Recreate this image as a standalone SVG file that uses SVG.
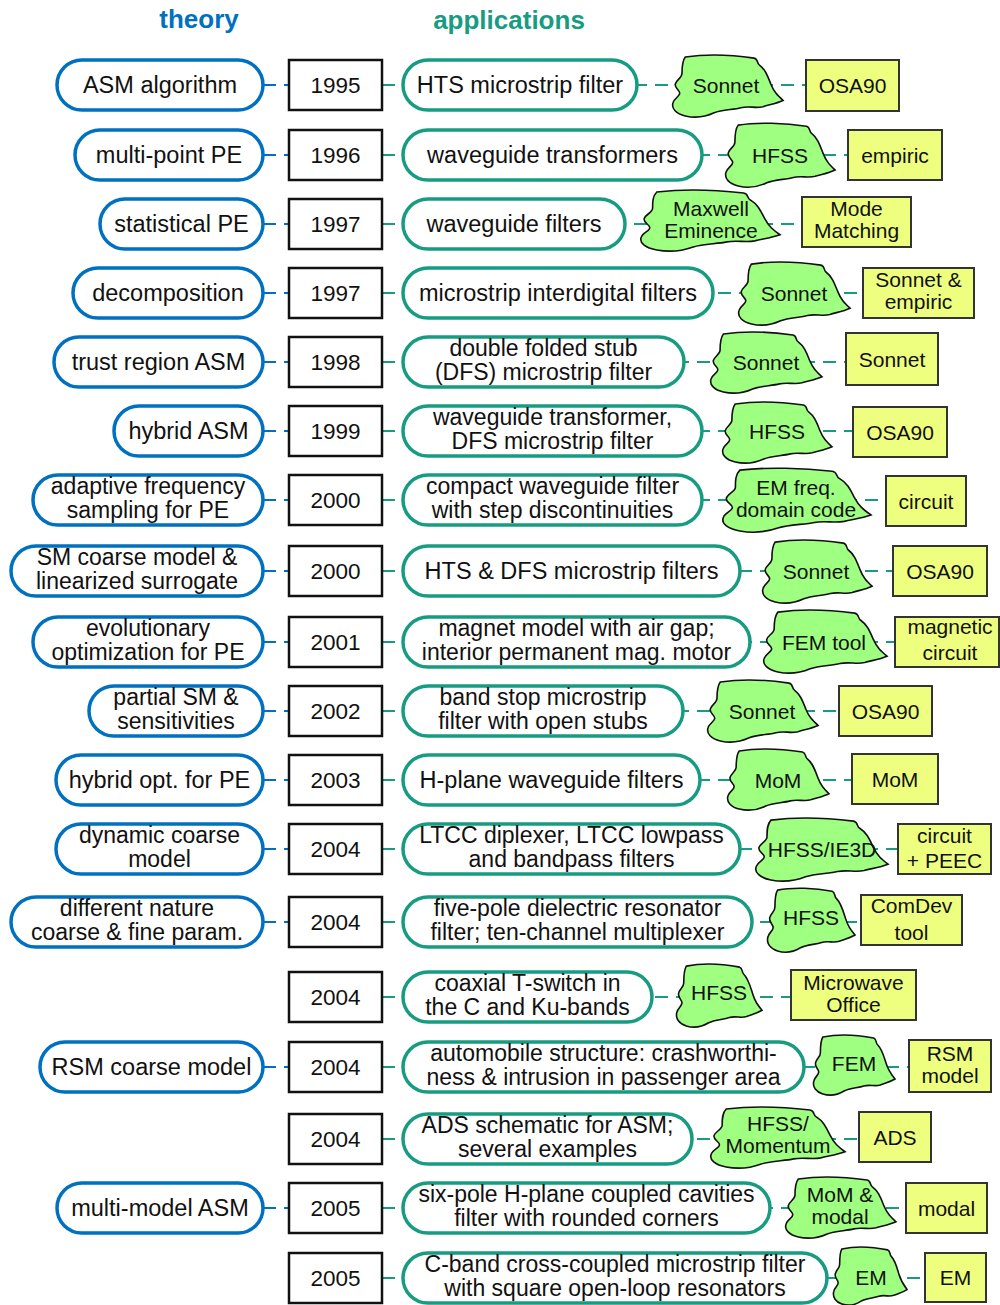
<svg xmlns="http://www.w3.org/2000/svg" xmlns:xlink="http://www.w3.org/1999/xlink" width="1000" height="1305" viewBox="0 0 1000 1305">
<style>
text{font-family:"Liberation Sans",Arial,sans-serif;fill:#111;text-anchor:middle}
.t{font-size:23.5px}
.t2{font-size:23px}
.yt{font-size:22.5px}
.s{font-size:21px}
.title{font-size:26px;font-weight:bold}
.th{fill:#fff;stroke:#0070C0;stroke-width:3.5}
.ap{fill:#fff;stroke:#179C82;stroke-width:3.5}
.yr{fill:#fff;stroke:#111;stroke-width:2.5}
.yl{fill:#EEFF80;stroke:#333;stroke-width:2}
.cl{fill:#9FFF80;stroke:#111;stroke-width:1.6}
.cb{stroke:#0070C0;stroke-width:2.2;stroke-dasharray:13 8;fill:none}
.ct{stroke:#179C82;stroke-width:2.2;stroke-dasharray:13 8;fill:none}
</style>
<defs>
<path id="cloud" class="cl" vector-effect="non-scaling-stroke" d="M12,2 C30,-1 55,0 74,3 C78,4 76,8 79,10 C84,14 86,20 89,28 C92,36 95,39 100,44 C94,47 88,48 82,50 C75,52 70,49 62,51 C55,53 45,53 38,56 C30,60 20,61 12,59 C4,57 -1,52 1,46 C2,42 7,40 7,37 C7,34 2,32 3,28 C4,24 9,22 9,18 C9,12 9,6 12,2 Z"/>
</defs>
<rect width="1000" height="1305" fill="#fff"/>
<text class="title" x="199" y="28" style="fill:#0070C0">theory</text>
<text class="title" x="509" y="29" style="fill:#179C82">applications</text>

<g id="connectors">
<line class="cb" x1="263" y1="85" x2="289" y2="85"/><line class="ct" x1="382" y1="85" x2="806" y2="85"/>
<line class="cb" x1="263" y1="155" x2="289" y2="155"/><line class="ct" x1="382" y1="155" x2="848" y2="155"/>
<line class="cb" x1="263" y1="224" x2="289" y2="224"/><line class="ct" x1="382" y1="224" x2="802" y2="224"/>
<line class="cb" x1="263" y1="293" x2="289" y2="293"/><line class="ct" x1="382" y1="293" x2="863" y2="293"/>
<line class="cb" x1="263" y1="362" x2="289" y2="362"/><line class="ct" x1="382" y1="362" x2="846" y2="362"/>
<line class="cb" x1="263" y1="431" x2="289" y2="431"/><line class="ct" x1="382" y1="431" x2="853" y2="431"/>
<line class="cb" x1="263" y1="500" x2="289" y2="500"/><line class="ct" x1="382" y1="500" x2="886" y2="500"/>
<line class="cb" x1="263" y1="571" x2="289" y2="571"/><line class="ct" x1="382" y1="571" x2="893" y2="571"/>
<line class="cb" x1="263" y1="642" x2="289" y2="642"/><line class="ct" x1="382" y1="642" x2="895" y2="642"/>
<line class="cb" x1="263" y1="711" x2="289" y2="711"/><line class="ct" x1="382" y1="711" x2="839" y2="711"/>
<line class="cb" x1="263" y1="780" x2="289" y2="780"/><line class="ct" x1="382" y1="780" x2="852" y2="780"/>
<line class="cb" x1="263" y1="849" x2="289" y2="849"/><line class="ct" x1="382" y1="849" x2="898" y2="849"/>
<line class="cb" x1="263" y1="922" x2="289" y2="922"/><line class="ct" x1="382" y1="922" x2="861" y2="922"/>
<line class="ct" x1="382" y1="997" x2="791" y2="997"/>
<line class="cb" x1="263" y1="1067" x2="289" y2="1067"/><line class="ct" x1="382" y1="1067" x2="909" y2="1067"/>
<line class="ct" x1="382" y1="1139" x2="859" y2="1139"/>
<line class="cb" x1="263" y1="1208" x2="289" y2="1208"/><line class="ct" x1="382" y1="1208" x2="906" y2="1208"/>
<line class="ct" x1="382" y1="1278" x2="925" y2="1278"/>
</g>

<!-- theory nodes -->
<g id="th1"><rect class="th" x="57" y="60" width="206" height="50" rx="25"/><text class="t" x="160" y="93">ASM algorithm</text></g>
<g id="th2"><rect class="th" x="75" y="130" width="188" height="50" rx="25"/><text class="t" x="169" y="163">multi-point PE</text></g>
<g id="th3"><rect class="th" x="100" y="199" width="163" height="50" rx="25"/><text class="t" x="181.5" y="232">statistical PE</text></g>
<g id="th4"><rect class="th" x="73" y="268" width="190" height="50" rx="25"/><text class="t" x="168" y="301">decomposition</text></g>
<g id="th5"><rect class="th" x="54" y="337" width="209" height="50" rx="25"/><text class="t" x="158.5" y="370">trust region ASM</text></g>
<g id="th6"><rect class="th" x="114" y="406" width="149" height="50" rx="25"/><text class="t" x="188.5" y="439">hybrid ASM</text></g>
<g id="th7"><rect class="th" x="33" y="475" width="230" height="50" rx="25"/><text class="t2" x="148" y="493.5">adaptive frequency<tspan x="148" dy="24.5">sampling for PE</tspan></text></g>
<g id="th8"><rect class="th" x="11" y="546" width="252" height="50" rx="25"/><text class="t2" x="137" y="564.5">SM coarse model &amp;<tspan x="137" dy="24.5">linearized surrogate</tspan></text></g>
<g id="th9"><rect class="th" x="33" y="617" width="230" height="50" rx="25"/><text class="t2" x="148" y="635.5">evolutionary<tspan x="148" dy="24.5">optimization for PE</tspan></text></g>
<g id="th10"><rect class="th" x="89" y="686" width="174" height="50" rx="25"/><text class="t2" x="176" y="704.5">partial SM &amp;<tspan x="176" dy="24.5">sensitivities</tspan></text></g>
<g id="th11"><rect class="th" x="56" y="755" width="207" height="50" rx="25"/><text class="t" x="159.5" y="788">hybrid opt. for PE</text></g>
<g id="th12"><rect class="th" x="56" y="824" width="207" height="50" rx="25"/><text class="t2" x="159.5" y="842.5">dynamic coarse<tspan x="159.5" dy="24.5">model</tspan></text></g>
<g id="th13"><rect class="th" x="11" y="897" width="252" height="50" rx="25"/><text class="t2" x="137" y="915.5">different nature<tspan x="137" dy="24.5">coarse &amp; fine param.</tspan></text></g>
<g id="th15"><rect class="th" x="40" y="1042" width="223" height="50" rx="25"/><text class="t" x="151.5" y="1075">RSM coarse model</text></g>
<g id="th17"><rect class="th" x="57" y="1183" width="206" height="50" rx="25"/><text class="t" x="160" y="1216">multi-model ASM</text></g>

<!-- year nodes -->
<g id="yr1"><rect class="yr" x="289" y="60" width="93" height="50"/><text class="yt" x="335.5" y="93">1995</text></g>
<g id="yr2"><rect class="yr" x="289" y="130" width="93" height="50"/><text class="yt" x="335.5" y="163">1996</text></g>
<g id="yr3"><rect class="yr" x="289" y="199" width="93" height="50"/><text class="yt" x="335.5" y="232">1997</text></g>
<g id="yr4"><rect class="yr" x="289" y="268" width="93" height="50"/><text class="yt" x="335.5" y="301">1997</text></g>
<g id="yr5"><rect class="yr" x="289" y="337" width="93" height="50"/><text class="yt" x="335.5" y="370">1998</text></g>
<g id="yr6"><rect class="yr" x="289" y="406" width="93" height="50"/><text class="yt" x="335.5" y="439">1999</text></g>
<g id="yr7"><rect class="yr" x="289" y="475" width="93" height="50"/><text class="yt" x="335.5" y="508">2000</text></g>
<g id="yr8"><rect class="yr" x="289" y="546" width="93" height="50"/><text class="yt" x="335.5" y="579">2000</text></g>
<g id="yr9"><rect class="yr" x="289" y="617" width="93" height="50"/><text class="yt" x="335.5" y="650">2001</text></g>
<g id="yr10"><rect class="yr" x="289" y="686" width="93" height="50"/><text class="yt" x="335.5" y="719">2002</text></g>
<g id="yr11"><rect class="yr" x="289" y="755" width="93" height="50"/><text class="yt" x="335.5" y="788">2003</text></g>
<g id="yr12"><rect class="yr" x="289" y="824" width="93" height="50"/><text class="yt" x="335.5" y="857">2004</text></g>
<g id="yr13"><rect class="yr" x="289" y="897" width="93" height="50"/><text class="yt" x="335.5" y="930">2004</text></g>
<g id="yr14"><rect class="yr" x="289" y="972" width="93" height="50"/><text class="yt" x="335.5" y="1005">2004</text></g>
<g id="yr15"><rect class="yr" x="289" y="1042" width="93" height="50"/><text class="yt" x="335.5" y="1075">2004</text></g>
<g id="yr16"><rect class="yr" x="289" y="1114" width="93" height="50"/><text class="yt" x="335.5" y="1147">2004</text></g>
<g id="yr17"><rect class="yr" x="289" y="1183" width="93" height="50"/><text class="yt" x="335.5" y="1216">2005</text></g>
<g id="yr18"><rect class="yr" x="289" y="1253" width="93" height="50"/><text class="yt" x="335.5" y="1286">2005</text></g>

<!-- application nodes -->
<g id="ap1"><rect class="ap" x="403" y="60" width="234" height="50" rx="25"/><text class="t" x="520" y="93">HTS microstrip filter</text></g>
<g id="ap2"><rect class="ap" x="403" y="130" width="299" height="50" rx="25"/><text class="t" x="552.5" y="163">waveguide transformers</text></g>
<g id="ap3"><rect class="ap" x="403" y="199" width="222" height="50" rx="25"/><text class="t" x="514" y="232">waveguide filters</text></g>
<g id="ap4"><rect class="ap" x="403" y="268" width="310" height="50" rx="25"/><text class="t" x="558" y="301">microstrip interdigital filters</text></g>
<g id="ap5"><rect class="ap" x="403" y="337" width="281" height="50" rx="25"/><text class="t2" x="543.5" y="355.5">double folded stub<tspan x="543.5" dy="24.5">(DFS) microstrip filter</tspan></text></g>
<g id="ap6"><rect class="ap" x="403" y="406" width="299" height="50" rx="25"/><text class="t2" x="552.5" y="424.5">waveguide transformer,<tspan x="552.5" dy="24.5">DFS microstrip filter</tspan></text></g>
<g id="ap7"><rect class="ap" x="403" y="475" width="299" height="50" rx="25"/><text class="t2" x="552.5" y="493.5">compact waveguide filter<tspan x="552.5" dy="24.5">with step discontinuities</tspan></text></g>
<g id="ap8"><rect class="ap" x="403" y="546" width="337" height="50" rx="25"/><text class="t" x="571.5" y="579">HTS &amp; DFS microstrip filters</text></g>
<g id="ap9"><rect class="ap" x="403" y="617" width="347" height="50" rx="25"/><text class="t2" x="576.5" y="635.5">magnet model with air gap;<tspan x="576.5" dy="24.5">interior permanent mag. motor</tspan></text></g>
<g id="ap10"><rect class="ap" x="403" y="686" width="280" height="50" rx="25"/><text class="t2" x="543" y="704.5">band stop microstrip<tspan x="543" dy="24.5">filter with open stubs</tspan></text></g>
<g id="ap11"><rect class="ap" x="403" y="755" width="297" height="50" rx="25"/><text class="t" x="551.5" y="788">H-plane waveguide filters</text></g>
<g id="ap12"><rect class="ap" x="403" y="824" width="337" height="50" rx="25"/><text class="t2" x="571.5" y="842.5">LTCC diplexer, LTCC lowpass<tspan x="571.5" dy="24.5">and bandpass filters</tspan></text></g>
<g id="ap13"><rect class="ap" x="403" y="897" width="349" height="50" rx="25"/><text class="t2" x="577.5" y="915.5">five-pole dielectric resonator<tspan x="577.5" dy="24.5">filter; ten-channel multiplexer</tspan></text></g>
<g id="ap14"><rect class="ap" x="403" y="972" width="249" height="50" rx="25"/><text class="t2" x="527.5" y="990.5">coaxial T-switch in<tspan x="527.5" dy="24.5">the C and Ku-bands</tspan></text></g>
<g id="ap15"><rect class="ap" x="403" y="1042" width="401" height="50" rx="25"/><text class="t2" x="603.5" y="1060.5">automobile structure: crashworthi-<tspan x="603.5" dy="24.5">ness &amp; intrusion in passenger area</tspan></text></g>
<g id="ap16"><rect class="ap" x="403" y="1114" width="289" height="50" rx="25"/><text class="t2" x="547.5" y="1132.5">ADS schematic for ASM;<tspan x="547.5" dy="24.5">several examples</tspan></text></g>
<g id="ap17"><rect class="ap" x="403" y="1183" width="367" height="50" rx="25"/><text class="t2" x="586.5" y="1201.5">six-pole H-plane coupled cavities<tspan x="586.5" dy="24.5">filter with rounded corners</tspan></text></g>
<g id="ap18"><rect class="ap" x="403" y="1253" width="424" height="50" rx="25"/><text class="t2" x="615" y="1271.5">C-band cross-coupled microstrip filter<tspan x="615" dy="24.5">with square open-loop resonators</tspan></text></g>

<!-- simulator clouds -->
<g id="cl1"><use xlink:href="#cloud" transform="translate(672,55) scale(1.11,1.033)"/><text class="s" x="726" y="92.5">Sonnet</text></g>
<g id="cl2"><use xlink:href="#cloud" transform="translate(725,123) scale(1.10,1.067)"/><text class="s" x="780" y="162.5">HFSS</text></g>
<g id="cl3"><use xlink:href="#cloud" transform="translate(640,190) scale(1.40,1.017)"/><text class="s" x="711" y="216">Maxwell<tspan x="711" dy="22">Eminence</tspan></text></g>
<g id="cl4"><use xlink:href="#cloud" transform="translate(738,262) scale(1.12,1.05)"/><text class="s" x="794" y="300.5">Sonnet</text></g>
<g id="cl5"><use xlink:href="#cloud" transform="translate(710,332) scale(1.12,1.017)"/><text class="s" x="766" y="369.5">Sonnet</text></g>
<g id="cl6"><use xlink:href="#cloud" transform="translate(722,402) scale(1.10,1.017)"/><text class="s" x="777" y="438.5">HFSS</text></g>
<g id="cl7"><use xlink:href="#cloud" transform="translate(722,468) scale(1.49,1.067)"/><text class="s" x="796" y="495">EM freq.<tspan x="796" dy="22">domain code</tspan></text></g>
<g id="cl8"><use xlink:href="#cloud" transform="translate(762,540) scale(1.10,1.05)"/><text class="s" x="816" y="578.5">Sonnet</text></g>
<g id="cl9"><use xlink:href="#cloud" transform="translate(763,610) scale(1.24,1.05)"/><text class="s" x="824" y="649.5">FEM tool</text></g>
<g id="cl10"><use xlink:href="#cloud" transform="translate(707,680) scale(1.11,1.033)"/><text class="s" x="762" y="718.5">Sonnet</text></g>
<g id="cl11"><use xlink:href="#cloud" transform="translate(727,749) scale(1.02,1.017)"/><text class="s" x="778" y="787.5">MoM</text></g>
<g id="cl12"><use xlink:href="#cloud" transform="translate(755,818) scale(1.33,1.05)"/><text class="s" x="822" y="856.5">HFSS/IE3D</text></g>
<g id="cl13"><use xlink:href="#cloud" transform="translate(767,888) scale(0.88,1.067)"/><text class="s" x="811" y="925">HFSS</text></g>
<g id="cl14"><use xlink:href="#cloud" transform="translate(676,964) scale(0.86,1.05)"/><text class="s" x="719" y="1000">HFSS</text></g>
<g id="cl15"><use xlink:href="#cloud" transform="translate(813,1035) scale(0.82,1.0)"/><text class="s" x="854" y="1071">FEM</text></g>
<g id="cl16"><use xlink:href="#cloud" transform="translate(710,1107) scale(1.35,1.017)"/><text class="s" x="778" y="1131">HFSS/<tspan x="778" dy="22">Momentum</tspan></text></g>
<g id="cl17"><use xlink:href="#cloud" transform="translate(785,1177) scale(1.11,1.017)"/><text class="s" x="840" y="1202">MoM &amp;<tspan x="840" dy="22">modal</tspan></text></g>
<g id="cl18"><use xlink:href="#cloud" transform="translate(833,1247) scale(0.74,0.967)"/><text class="s" x="871" y="1285">EM</text></g>

<!-- method boxes -->
<g id="yl1"><rect class="yl" x="806" y="60" width="93" height="51"/><text class="s" x="852.5" y="93">OSA90</text></g>
<g id="yl2"><rect class="yl" x="848" y="130" width="94" height="50"/><text class="s" x="895" y="162.5">empiric</text></g>
<g id="yl3"><rect class="yl" x="802" y="197" width="109" height="50"/><text class="s" x="856.5" y="216">Mode<tspan x="856.5" dy="22">Matching</tspan></text></g>
<g id="yl4"><rect class="yl" x="863" y="268" width="111" height="50"/><text class="s" x="918.5" y="287">Sonnet &amp;<tspan x="918.5" dy="22">empiric</tspan></text></g>
<g id="yl5"><rect class="yl" x="846" y="333" width="92" height="52"/><text class="s" x="892" y="366.5">Sonnet</text></g>
<g id="yl6"><rect class="yl" x="853" y="407" width="94" height="50"/><text class="s" x="900" y="439.5">OSA90</text></g>
<g id="yl7"><rect class="yl" x="886" y="476" width="80" height="50"/><text class="s" x="926" y="508.5">circuit</text></g>
<g id="yl8"><rect class="yl" x="893" y="546" width="94" height="50"/><text class="s" x="940" y="578.5">OSA90</text></g>
<g id="yl9"><rect class="yl" x="895" y="617" width="104" height="50"/><text class="s" x="950" y="634">magnetic<tspan x="950" dy="26">circuit</tspan></text></g>
<g id="yl10"><rect class="yl" x="839" y="686" width="93" height="50"/><text class="s" x="885.5" y="718.5">OSA90</text></g>
<g id="yl11"><rect class="yl" x="852" y="754" width="86" height="50"/><text class="s" x="895" y="786.5">MoM</text></g>
<g id="yl12"><rect class="yl" x="898" y="824" width="93" height="50"/><text class="s" x="944.5" y="843">circuit<tspan x="944.5" dy="25">+ PEEC</tspan></text></g>
<g id="yl13"><rect class="yl" x="861" y="895" width="101" height="50"/><text class="s" x="911.5" y="913">ComDev<tspan x="911.5" dy="27">tool</tspan></text></g>
<g id="yl14"><rect class="yl" x="791" y="970" width="125" height="50"/><text class="s" x="853.5" y="990">Microwave<tspan x="853.5" dy="22">Office</tspan></text></g>
<g id="yl15"><rect class="yl" x="909" y="1040" width="82" height="52"/><text class="s" x="950" y="1061">RSM<tspan x="950" dy="22">model</tspan></text></g>
<g id="yl16"><rect class="yl" x="859" y="1112" width="72" height="50"/><text class="s" x="895" y="1144.5">ADS</text></g>
<g id="yl17"><rect class="yl" x="906" y="1183" width="81" height="50"/><text class="s" x="946.5" y="1215.5">modal</text></g>
<g id="yl18"><rect class="yl" x="925" y="1253" width="61" height="49"/><text class="s" x="955.5" y="1285">EM</text></g>
</svg>
